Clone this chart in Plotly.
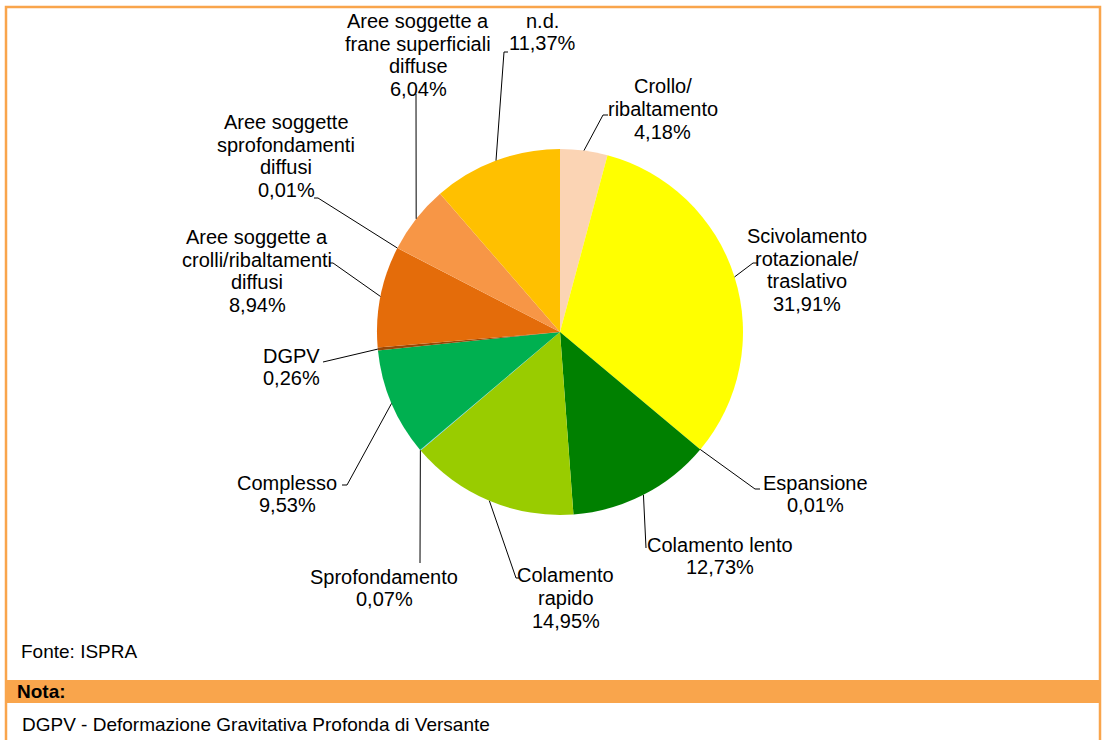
import math
import plotly.graph_objects as go

# data: landslide type shares (%), clockwise from 12 o'clock
categories = [
    "Crollo/ribaltamento",
    "Scivolamento rotazionale/traslativo",
    "Espansione",
    "Colamento lento",
    "Colamento rapido",
    "Sprofondamento",
    "Complesso",
    "DGPV",
    "Aree soggette a crolli/ribaltamenti diffusi",
    "Aree soggette sprofondamenti diffusi",
    "Aree soggette a frane superficiali diffuse",
    "n.d.",
]
values = [4.18, 31.91, 0.01, 12.73, 14.95, 0.07, 9.53, 0.26, 8.94, 0.01, 6.04, 11.37]
colors = [
    "#FBD4B4", "#FFFF00", "#C4BD97", "#008000", "#99CC00", "#66CCFF",
    "#00B050", "#984807", "#E46C0A", "#F4A460", "#F79646", "#FFC000",
]

# how each label is wrapped on the page
wrapped = [
    ["Crollo/", "ribaltamento"],
    ["Scivolamento", "rotazionale/", "traslativo"],
    ["Espansione"],
    ["Colamento lento"],
    ["Colamento", "rapido"],
    ["Sprofondamento"],
    ["Complesso"],
    ["DGPV"],
    ["Aree soggette a", "crolli/ribaltamenti", "diffusi"],
    ["Aree soggette", "sprofondamenti", "diffusi"],
    ["Aree soggette a", "frane superficiali", "diffuse"],
    ["n.d."],
]

W, H = 1104, 740
CX, CY, R = 560, 332, 183
ORANGE = "#F9A54C"
LINE_H = 22.7

# label block centres and leader line outer points (pixels)
label_pos = [
    (663, 109), (807, 270), (815, 494), (720, 556), (566, 598), (384, 588),
    (287, 494), (291, 367), (257, 271), (286, 156), (418, 55), (542, 32),
]
leader_pts = [
    [(603, 115), (608, 115)],
    [(753, 263), (758, 263)],
    [(755, 489), (760, 489)],
    [(646, 548)],
    [(516, 578), (519, 578)],
    [(420, 563)],
    [(347, 485), (342, 485)],
    [(323, 362)],
    [(333, 263), (329, 263)],
    [(318, 198), (314, 198)],
    [(416, 94)],
    [(504, 52), (508, 52)],
]


def px(x):
    return x / W


def py(y):
    return 1 - y / H


fig = go.Figure(
    go.Pie(
        labels=categories,
        values=values,
        sort=False,
        direction="clockwise",
        rotation=0,
        marker=dict(colors=colors, line=dict(width=0)),
        textinfo="none",
        hoverinfo="label+percent",
        domain=dict(x=[px(CX - R), px(CX + R)], y=[py(CY + R), py(CY - R)]),
        showlegend=False,
    )
)

label_font = dict(family="Liberation Sans, Arial", size=20, color="black")
annotations = []
shapes = []
total = sum(values)
cum = 0
for lines, v, (lx, ly), pts in zip(wrapped, values, label_pos, leader_pts):
    mid = (cum + v / 2) / total * 2 * math.pi
    cum += v
    ex, ey = CX + R * math.sin(mid), CY - R * math.cos(mid)
    path = f"M {px(ex)} {py(ey)}"
    for x, y in pts:
        path += f" L {px(x)} {py(y)}"
    shapes.append(dict(type="path", path=path, xref="paper", yref="paper",
                       line=dict(color="black", width=1)))
    pct = f"{v:.2f}".replace(".", ",") + "%"
    rows = lines + [pct]
    for i, row in enumerate(rows):
        yy = ly + (i - (len(rows) - 1) / 2) * LINE_H
        annotations.append(dict(
            x=px(lx), y=py(yy), xref="paper", yref="paper",
            text=row, showarrow=False, xanchor="center", yanchor="middle",
            font=label_font,
        ))

# frame, note band
shapes.append(dict(type="rect", xref="paper", yref="paper",
                   x0=px(6), x1=px(1100), y0=py(745), y1=py(7),
                   line=dict(color=ORANGE, width=2.5), layer="below"))
shapes.append(dict(type="rect", xref="paper", yref="paper",
                   x0=px(5), x1=px(1101), y0=py(703), y1=py(680),
                   fillcolor=ORANGE, line=dict(width=0)))

foot_font = dict(family="Liberation Sans Narrow, Arial Narrow, Liberation Sans",
                 size=19, color="black")
foot = [
    dict(x=px(19), y=py(651), text="Fonte: ISPRA"),
    dict(x=px(15), y=py(691), text="<b>Nota:</b>"),
    dict(x=px(20), y=py(724), text="DGPV - Deformazione Gravitativa Profonda di Versante"),
]
for a in foot:
    a.update(xref="paper", yref="paper", showarrow=False, xanchor="left",
             yanchor="middle", font=foot_font)
annotations += foot

fig.update_layout(
    width=W, height=H,
    margin=dict(l=0, r=0, t=0, b=0),
    paper_bgcolor="white",
    plot_bgcolor="white",
    annotations=annotations,
    shapes=shapes,
)

fig.write_html("out.html", config={"displayModeBar": False},
               post_script="document.body.style.margin = '0';")
